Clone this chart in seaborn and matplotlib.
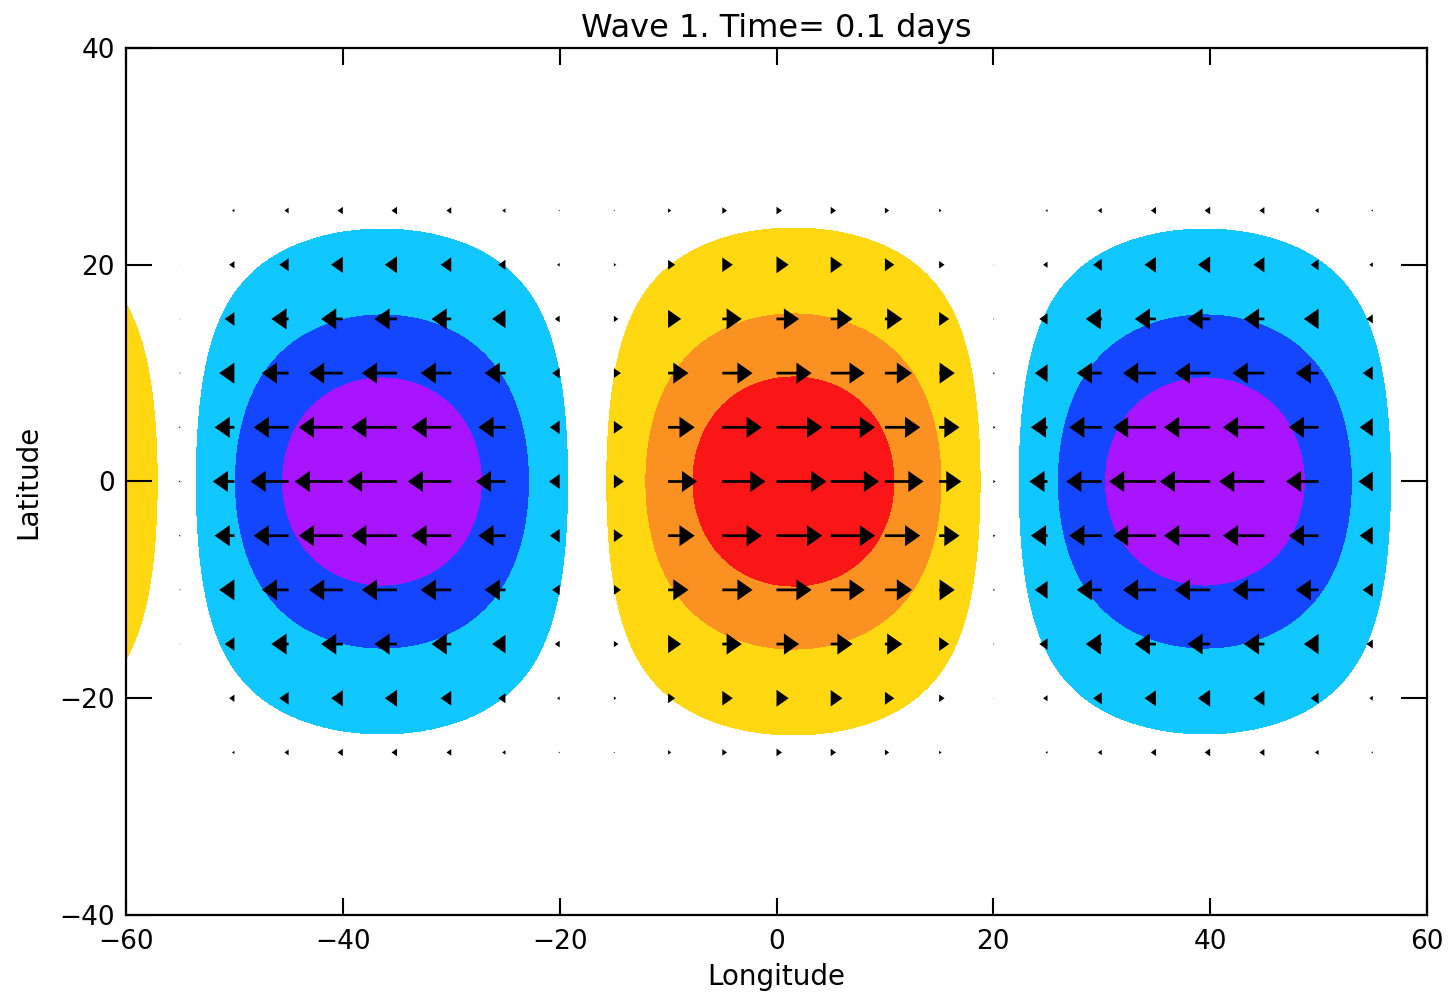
import numpy as np
import matplotlib
matplotlib.use("Agg")
import matplotlib.pyplot as plt
import seaborn as sns

# wave shape (degrees)
crest_lon = 1.56          # longitude of the red (positive) crest
half_wavelength = 37.95   # crest to trough distance in longitude
lat_width = 11.9          # gaussian half width in latitude
arrow_len_max = 4.65      # arrow length (deg) for a unit wind

# shaded levels and their colours (trough -> crest)
levels = [-1.05, -0.72, -0.43, -0.145, 0.145, 0.43, 0.72, 1.05]
fill_colors = ["#A914FF", "#1446FF", "#10C8FF", "#FFFFFF",
               "#FFD812", "#FA9120", "#FA1616"]

# wind vector grid
vec_lons = [-55, -50, -45, -40, -35, -30, -25, -20, -15, -10, -5, 0,
            5, 10, 15, 20, 25, 30, 35, 40, 45, 50, 55]
vec_lats = [-25, -20, -15, -10, -5, 0, 5, 10, 15, 20, 25]

xticks = [-60, -40, -20, 0, 20, 40, 60]
yticks = [-40, -20, 0, 20, 40]


def wave(lo, la):
    return (np.cos(np.pi * (lo - crest_lon) / half_wavelength)
            * np.exp(-la ** 2 / (2 * lat_width ** 2)))


sns.set_style("ticks")
plt.rcParams["font.family"] = ["DejaVu Sans"]
plt.rcParams["text.color"] = "black"
plt.rcParams["axes.labelcolor"] = "black"

fig = plt.figure(figsize=(14.53, 9.98), dpi=100)
ax = fig.add_axes([126 / 1453, 1 - 915 / 998, 1301 / 1453, 867 / 998])
ax.set_axisbelow(False)

lon = np.linspace(-60, 60, 721)
lat = np.linspace(-40, 40, 481)
LON, LAT = np.meshgrid(lon, lat)
ax.contourf(LON, LAT, wave(LON, LAT), levels=levels, colors=fill_colors, zorder=1)

VLON, VLAT = np.meshgrid(vec_lons, vec_lats)
U = wave(VLON, VLAT)
ax.quiver(VLON, VLAT, U, np.zeros_like(U), angles="xy", scale_units="xy",
          scale=1 / arrow_len_max, units="xy", width=0.25, headlength=5.6,
          headaxislength=5.6, headwidth=7.8, minlength=0, pivot="tail",
          color="black", zorder=3)

ax.set_xlim(-60, 60)
ax.set_ylim(-40, 40)
ax.set_xticks(xticks)
ax.set_yticks(yticks)
ax.set_xticklabels([str(t) if t >= 0 else "\u2212" + str(-t) for t in xticks])
ax.set_yticklabels([str(t) if t >= 0 else "\u2212" + str(-t) for t in yticks])
ax.tick_params(axis="both", direction="in", top=True, right=True,
               width=1.5, colors="black", labelsize=19)
ax.tick_params(axis="x", length=12.5, pad=10)
ax.tick_params(axis="y", length=18.7, pad=8)
for s in ax.spines.values():
    s.set_linewidth(1.6)
    s.set_color("black")
    s.set_zorder(4)

ax.set_title("Wave 1. Time= 0.1 days", fontsize=23, pad=8)
ax.set_xlabel("Longitude", fontsize=20, labelpad=6)
ax.set_ylabel("Latitude", fontsize=20, labelpad=12)

fig.savefig("out.png", dpi=100, facecolor="white")
